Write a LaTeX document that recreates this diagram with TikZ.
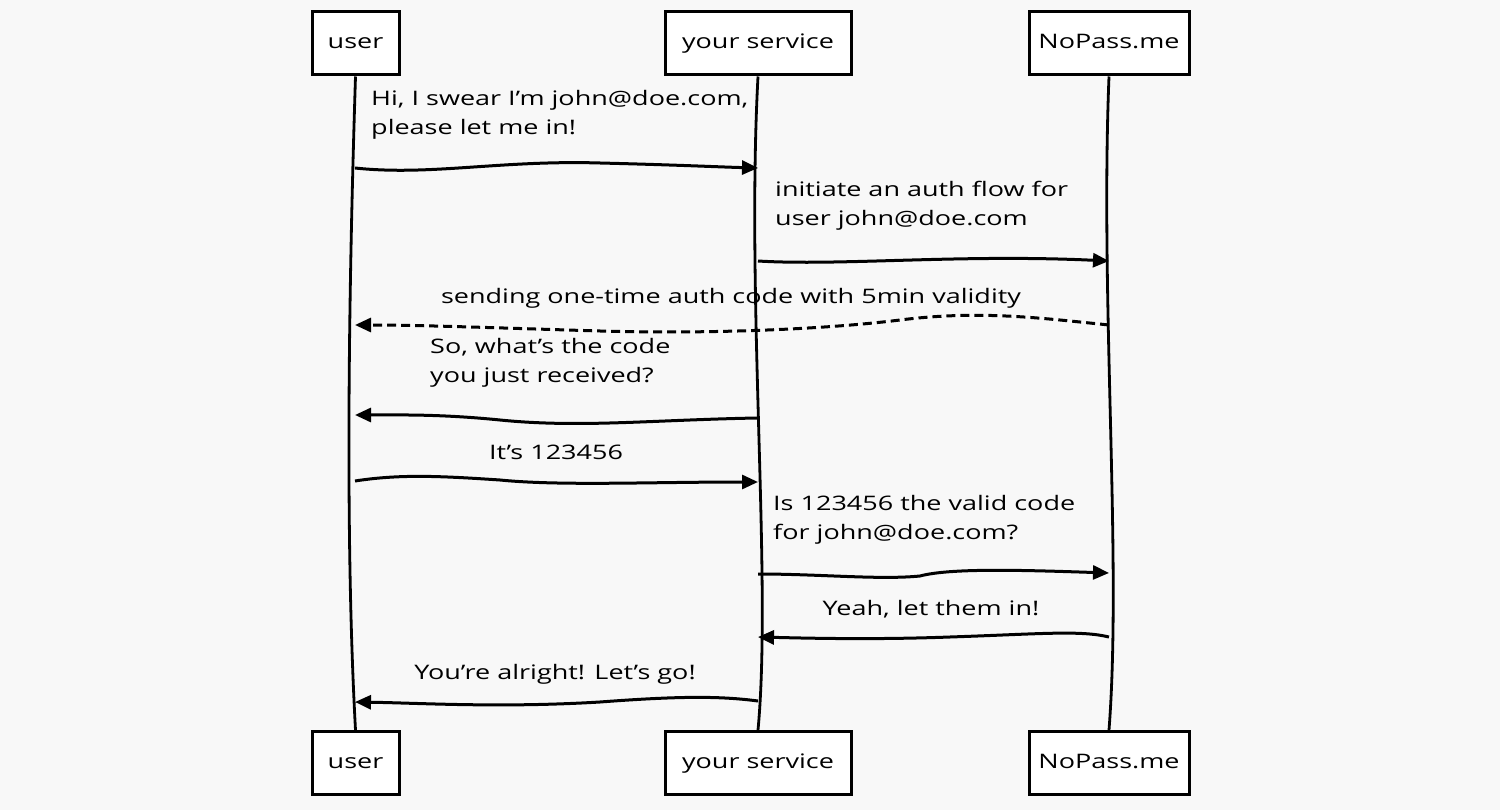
\documentclass[tikz,border=0pt]{standalone}
\usepackage{fontspec}
\setmainfont{Open Sans}[FakeStretch=1.35]
\usetikzlibrary{arrows.meta}
\definecolor{bg}{RGB}{248,248,248}
\begin{document}
\begin{tikzpicture}[x=1pt,y=-1pt,
  actor/.style={draw, line width=3pt, fill=white, inner sep=0pt, minimum height=63pt, text height=15pt, text depth=5pt, font=\fontsize{20}{29}\selectfont},
  life/.style={line width=2.8pt},
  msg/.style={line width=3pt, -{Triangle[length=16pt,width=14pt]}},
  dmsg/.style={msg, dash pattern=on 9pt off 5pt},
  lbl/.style={inner sep=0pt, font=\fontsize{20}{29}\selectfont},
]
\fill[bg] (0,0) rectangle (1500,810);
\useasboundingbox (0,0) rectangle (1500,810);
% actors
\node[actor, minimum width=87pt] (ut) at (355.5,43.5) {user};
\node[actor, minimum width=186pt] (st) at (758,43.5) {your service};
\node[actor, minimum width=160pt] (nt) at (1109,43.5) {NoPass.me};
\node[actor, minimum width=87pt] (ub) at (355.5,763) {user};
\node[actor, minimum width=186pt] (sb) at (758,763) {your service};
\node[actor, minimum width=160pt] (nb) at (1109,763) {NoPass.me};
% lifelines
\draw[life] (ut.south) .. controls (350,250) and (344,520) .. (ub.north);
\draw[life] (st.south) .. controls (746,300) and (772,580) .. (sb.north);
\draw[life] (nt.south) .. controls (1100,300) and (1122,560) .. (nb.north);
% message end points
\coordinate (a1) at (355,168); \coordinate (b1) at (758,168);
\coordinate (a2) at (758,261); \coordinate (b2) at (1109,261);
\coordinate (a3) at (1109,325); \coordinate (b3) at (355,325);
\coordinate (a4) at (757,418); \coordinate (b4) at (355,415);
\coordinate (a5) at (355,481); \coordinate (b5) at (758,482);
\coordinate (a6) at (758,574); \coordinate (b6) at (1109,573);
\coordinate (a7) at (1109,637); \coordinate (b7) at (758,637);
\coordinate (a8) at (758,701); \coordinate (b8) at (355,702);
% messages
\draw[msg] (a1) .. controls (430,176) and (500,160) .. (600,163) .. controls (680,165) and (720,167) .. (b1);
\draw[msg] (a2) .. controls (840,266) and (960,254) .. (b2);
\draw[dmsg] (a3) .. controls (1040,318) and (980,310) .. (900,320) .. controls (820,330) and (700,334) .. (600,331) .. controls (500,328) and (420,325) .. (b3);
\draw[msg] (a4) .. controls (650,420) and (580,428) .. (500,420) .. controls (440,414) and (400,415) .. (b4);
\draw[msg] (a5) .. controls (400,474) and (440,476) .. (500,480) .. controls (560,486) and (650,482) .. (b5);
\draw[msg] (a6) .. controls (820,574) and (880,580) .. (920,576) .. controls (950,568) and (1020,570) .. (b6);
\draw[msg] (a7) .. controls (1080,630) and (1040,634) .. (950,637) .. controls (870,640) and (800,638) .. (b7);
\draw[msg] (a8) .. controls (720,696) and (680,696) .. (600,702) .. controls (500,708) and (420,703) .. (b8);
% labels
\node[lbl, anchor=base west] (l1) at (371,106) {\begin{tabular}[t]{@{}l@{}}Hi, I swear I'm john@doe.com,\\please let me in!\end{tabular}};
\node[lbl, anchor=base west] (l2) at (775,197) {\begin{tabular}[t]{@{}l@{}}initiate an auth flow for\\user john@doe.com\end{tabular}};
\node[lbl, anchor=base] (l3) at (731,304) {sending one-time auth code with 5min validity};
\node[lbl, anchor=base west] (l4) at (430,354) {\begin{tabular}[t]{@{}l@{}}So, what's the code\\you just received?\end{tabular}};
\node[lbl, anchor=base] (l5) at (556,459) {It's 123456};
\node[lbl, anchor=base west] (l6) at (773,510) {\begin{tabular}[t]{@{}l@{}}Is 123456 the valid code\\for john@doe.com?\end{tabular}};
\node[lbl, anchor=base] (l7) at (931,615) {Yeah, let them in!};
\node[lbl, anchor=base] (l8) at (555,679) {You're alright! Let's go!};
\end{tikzpicture}
\end{document}
